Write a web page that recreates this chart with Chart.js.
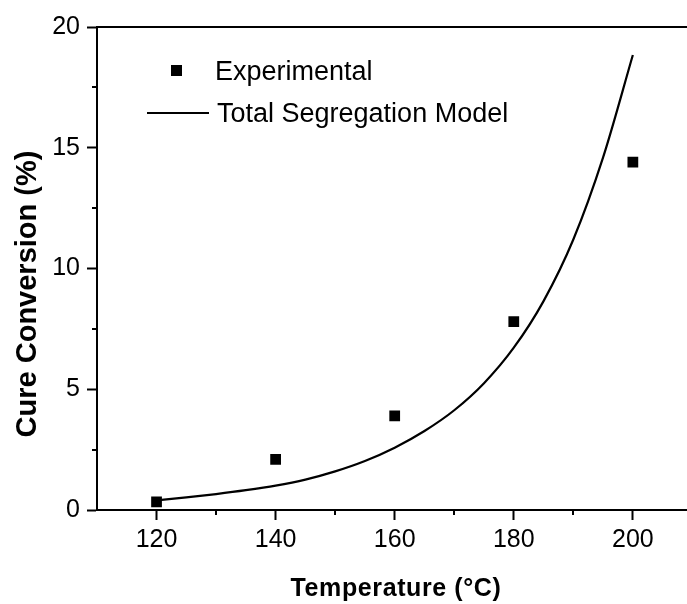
<!DOCTYPE html>
<html>
<head>
<meta charset="utf-8">
<script src="https://cdn.jsdelivr.net/npm/chart.js@4/dist/chart.umd.min.js"></script>
<style>
  html, body { margin: 0; padding: 0; background: #fff; overflow: hidden; }
  #wrap { width: 700px; height: 604px; }
</style>
</head>
<body>
<div id="wrap"><canvas id="chart"></canvas></div>
<script>
// experimental points
const temps = [120, 140, 160, 180, 200];
const conversion = [0.34, 2.1, 3.9, 7.8, 14.4];

// model curve
const modelTemps = [120, 125, 130, 135, 140, 145, 150, 155, 160, 165, 170, 175, 180, 185, 190, 195, 200];
const modelConversion = [0.40, 0.52, 0.66, 0.82, 1.01, 1.26, 1.60, 2.03, 2.58, 3.27, 4.13, 5.25, 6.72, 8.65, 11.2, 14.6, 18.84];

const xTicks = [120, 140, 160, 180, 200];
const yTicks = [0, 5, 10, 15, 20];

const FONT = '"Liberation Sans", Arial, sans-serif';

function toPoints(xs, ys) {
    return xs.map((x, i) => ({ x: x, y: ys[i] }));
}

// minor ticks, frame top, legend and axis titles
const decorations = {
    id: 'decorations',
    afterDraw(chart) {
        const ctx = chart.ctx;
        const area = chart.chartArea;
        const xs = chart.scales.x;
        const ys = chart.scales.y;
        ctx.save();
        ctx.strokeStyle = '#000';
        ctx.lineWidth = 2;

        // top frame line
        ctx.beginPath();
        ctx.moveTo(area.left, area.top);
        ctx.lineTo(area.right + 10, area.top);
        ctx.stroke();

        // minor ticks
        ctx.beginPath();
        [2.5, 7.5, 12.5, 17.5].forEach(v => {
            const py = Math.round(ys.getPixelForValue(v));
            ctx.moveTo(area.left - 5, py);
            ctx.lineTo(area.left, py);
        });
        [130, 150, 170, 190].forEach(v => {
            const px = Math.round(xs.getPixelForValue(v));
            ctx.moveTo(px, area.bottom);
            ctx.lineTo(px, area.bottom + 5);
        });
        ctx.stroke();

        // legend
        ctx.fillStyle = '#000';
        ctx.fillRect(171, 65, 11, 11);
        ctx.beginPath();
        ctx.moveTo(147, 113);
        ctx.lineTo(209, 113);
        ctx.stroke();
        ctx.font = '27px ' + FONT;
        ctx.textBaseline = 'alphabetic';
        ctx.textAlign = 'left';
        ctx.fillText('Experimental', 215, 80);
        ctx.fillText('Total Segregation Model', 217, 122);

        // x title
        ctx.font = 'bold 25px ' + FONT;
        ctx.letterSpacing = '0.6px';
        ctx.textAlign = 'center';
        ctx.fillText('Temperature (\u00B0C)', 396, 596);

        // y title
        ctx.letterSpacing = '0px';
        ctx.translate(36, 294);
        ctx.rotate(-Math.PI / 2);
        ctx.font = 'bold 29px ' + FONT;
        ctx.fillText('Cure Conversion (%)', 0, 0);
        ctx.restore();
    }
};

const config = {
    type: 'scatter',
    data: {
        datasets: [
            {
                label: 'Total Segregation Model',
                type: 'line',
                data: toPoints(modelTemps, modelConversion),
                borderColor: '#000',
                borderWidth: 2.2,
                pointRadius: 0,
                fill: false,
                cubicInterpolationMode: 'monotone',
                order: 2,
            },
            {
                label: 'Experimental',
                data: toPoints(temps, conversion),
                pointStyle: 'rect',
                pointRadius: 7.6,
                borderWidth: 0,
                backgroundColor: '#000',
                borderColor: '#000',
                order: 1,
            },
        ],
    },
    options: {
        responsive: true,
        maintainAspectRatio: false,
        animation: false,
        layout: { padding: { top: 27, right: 5, left: 0, bottom: 0 } },
        plugins: {
            legend: { display: false },
            tooltip: { enabled: false },
        },
        scales: {
            x: {
                type: 'linear',
                min: 110,
                max: 210,
                afterFit(scale) { scale.height = 94; },
                afterBuildTicks(scale) {
                    scale.ticks = xTicks.map(v => ({ value: v }));
                },
                border: { display: true, color: '#000', width: 2 },
                grid: {
                    display: true,
                    drawOnChartArea: false,
                    drawTicks: true,
                    tickLength: 10,
                    tickWidth: 2,
                    tickColor: '#000',
                },
                ticks: {
                    color: '#000',
                    font: { family: FONT, size: 25 },
                    padding: 5,
                    maxRotation: 0,
                    autoSkip: false,
                },
            },
            y: {
                type: 'linear',
                min: 0,
                max: 20,
                afterFit(scale) { scale.width = 97; },
                afterBuildTicks(scale) {
                    scale.ticks = yTicks.map(v => ({ value: v }));
                },
                border: { display: true, color: '#000', width: 2 },
                grid: {
                    display: true,
                    drawOnChartArea: false,
                    drawTicks: true,
                    tickLength: 10,
                    tickWidth: 2,
                    tickColor: '#000',
                },
                ticks: {
                    color: '#000',
                    font: { family: FONT, size: 25 },
                    padding: 7,
                    autoSkip: false,
                },
            },
        },
    },
    plugins: [decorations],
};

new Chart(document.getElementById('chart'), config);
</script>
</body>
</html>
